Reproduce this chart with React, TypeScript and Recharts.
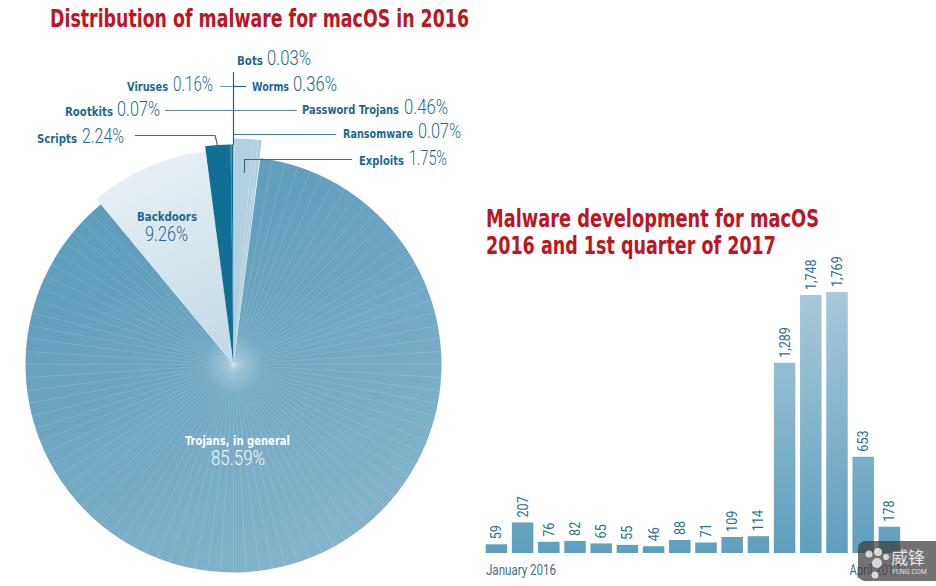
import { PieChart, Pie, Cell, BarChart, Bar, XAxis, YAxis, LabelList } from 'recharts';

const LIGHT = 'Roboto, "Noto Sans", sans-serif';
const HEAD = '"DejaVu Sans Condensed", "DejaVu Sans", sans-serif';

// each wedge group of the pie, clockwise from 12 o'clock
const lightNames = ['Ransomware', 'Exploits', 'Password Trojans', 'Worms'];
const lightValues = [0.07, 1.75, 0.46, 0.36];
const trojanNames = ['Trojans, in general'];
const trojanValues = [85.59];
const backdoorNames = ['Backdoors'];
const backdoorValues = [9.26];
const darkNames = ['Scripts', 'Rootkits', 'Viruses', 'Bots'];
const darkValues = [2.24, 0.07, 0.16, 0.03];

const toRows = (names: string[], values: number[]) => names.map((name, i) => ({ name, value: values[i] }));

// degrees clockwise from 12 o'clock, as the wedges sit in the picture
const wedges = [
  { rows: toRows(trojanNames, trojanValues), from: 7.4, to: 320.4, radius: 208, fill: 'url(#trojanFill)' },
  { rows: toRows(backdoorNames, backdoorValues), from: 320.4, to: 352.6, radius: 215, fill: 'url(#backdoorFill)' },
  { rows: toRows(darkNames, darkValues), from: 352.6, to: 360, radius: 220, fill: '#0f6f94' },
  { rows: toRows(lightNames, lightValues), from: 0, to: 7.2, radius: 226, fill: '#b3d0e0' },
];

const months = ['January 2016', 'February 2016', 'March 2016', 'April 2016', 'May 2016', 'June 2016', 'July 2016', 'August 2016', 'September 2016', 'October 2016', 'November 2016', 'December 2016', 'January 2017', 'February 2017', 'March 2017', 'April 2017'];
const samples = [59, 207, 76, 82, 65, 55, 46, 88, 71, 109, 114, 1289, 1748, 1769, 653, 178];

const barRows = months.map((month, i) => ({ month, samples: samples[i] }));

// callouts: name, percent, name x range, percent x range, baseline
const callouts: [string, string, number, number, number, number, number][] = [
  ['Bots', '0.03%', 237, 263, 267, 311, 65],
  ['Viruses', '0.16%', 127, 168, 173, 213, 91],
  ['Worms', '0.36%', 252, 289, 293, 337, 91],
  ['Rootkits', '0.07%', 65, 113, 117, 160, 116],
  ['Password Trojans', '0.46%', 302, 399, 404, 448, 114],
  ['Scripts', '2.24%', 37, 77, 82, 124, 143],
  ['Ransomware', '0.07%', 343, 413, 418, 461, 138],
  ['Exploits', '1.75%', 359, 404, 409, 447, 165],
];

const leaders = [
  { d: 'M233.5 72V145', c: '#1d6480' },
  { d: 'M220 86.5H233', c: '#7d9fae' },
  { d: 'M233 86.5H246', c: '#1d6480' },
  { d: 'M165 110.5H233', c: '#5d8293' },
  { d: 'M233 110.5H297', c: '#5d8293' },
  { d: 'M135 135.5H215L218 147', c: '#3f6f84' },
  { d: 'M233 134.5H336', c: '#3f7a94' },
  { d: 'M244.5 173V159.5H352', c: '#3f6f84' },
];

const rayAngles = Array.from({ length: 100 }, (_, i) => (i * Math.PI) / 50);

function MonthTick({ x, y, index, payload }: any) {
  if (index !== 0 && index !== months.length - 1) return null;
  const first = index === 0;
  return (
    <text
      x={first ? x - 10.75 : x + 10.75 - 51}
      y={y + 14}
      textLength={first ? 70 : 51}
      lengthAdjust="spacingAndGlyphs"
      fontFamily={LIGHT}
      fontSize={15}
      fill="#3f6f84"
    >
      {payload.value}
    </text>
  );
}

function BarValue({ x, y, width, value }: any) {
  const cx = x + width / 2 + 5;
  const top = y - 5;
  return (
    <text
      transform={`translate(${cx} ${top}) rotate(-90) scale(0.9 1)`}
      fontFamily={LIGHT}
      fontSize={14}
      fill="#2f6f8d"
    >
      {Number(value).toLocaleString('en-US')}
    </text>
  );
}

export default function App() {
  return (
    <div style={{ position: 'absolute', left: 0, top: 0, width: 936, height: 586, background: '#fff', overflow: 'hidden' }}>
      <div style={{ position: 'absolute', left: 0, top: 0 }}>
        <PieChart width={480} height={586} margin={{ top: 0, right: 0, bottom: 0, left: 0 }}>
          <defs>
            <linearGradient id="trojanBase" gradientUnits="userSpaceOnUse" x1="130" y1="160" x2="340" y2="570">
              <stop offset="0" stopColor="#5a9aba" />
              <stop offset="1" stopColor="#86b5cc" />
            </linearGradient>
            <radialGradient id="trojanGlow" gradientUnits="userSpaceOnUse" cx="233.5" cy="364.5" r="30">
              <stop offset="0" stopColor="#b5d5e2" stopOpacity="0.6" />
              <stop offset="1" stopColor="#b5d5e2" stopOpacity="0" />
            </radialGradient>
            <linearGradient id="backdoorFill" gradientUnits="userSpaceOnUse" x1="140" y1="160" x2="225" y2="360">
              <stop offset="0" stopColor="#e8f0f5" />
              <stop offset="1" stopColor="#c3d9e5" />
            </linearGradient>
            <pattern id="trojanFill" patternUnits="userSpaceOnUse" x="0" y="0" width="480" height="586">
              <rect width="480" height="586" fill="url(#trojanBase)" />
              {rayAngles.map((a, i) => (
                <line
                  key={i}
                  x1={233.5}
                  y1={364.5}
                  x2={233.5 + 215 * Math.cos(a)}
                  y2={364.5 + 215 * Math.sin(a)}
                  stroke="#ffffff"
                  strokeOpacity={0.16}
                  strokeWidth={0.8}
                />
              ))}
              <circle cx={233.5} cy={364.5} r={30} fill="url(#trojanGlow)" />
            </pattern>
          </defs>
          {wedges.map((w) => (
            <Pie
              key={w.from}
              data={w.rows}
              dataKey="value"
              nameKey="name"
              cx={233.5}
              cy={364.5}
              innerRadius={0}
              outerRadius={w.radius}
              startAngle={90 - w.from}
              endAngle={90 - w.to}
              stroke="none"
              isAnimationActive={false}
            >
              {w.rows.map((r) => (
                <Cell key={r.name} fill={w.fill} stroke="none" />
              ))}
            </Pie>
          ))}
        </PieChart>
      </div>

      <div style={{ position: 'absolute', left: 473, top: 250 }}>
        <BarChart width={440} height={336} data={barRows} margin={{ top: 42, right: 10.15, bottom: 0, left: 10.65 }}>
          <defs>
            <linearGradient id="barFill" gradientUnits="userSpaceOnUse" x1="0" y1="42" x2="0" y2="303">
              <stop offset="0" stopColor="#a8c9da" />
              <stop offset="1" stopColor="#5f9fbd" />
            </linearGradient>
          </defs>
          <XAxis dataKey="month" axisLine={false} tickLine={false} height={33} interval={0} tick={<MonthTick />} />
          <YAxis hide domain={[0, 1769]} />
          <Bar dataKey="samples" barSize={21.5} fill="url(#barFill)" isAnimationActive={false}>
            <LabelList dataKey="samples" content={<BarValue />} />
          </Bar>
        </BarChart>
      </div>

      <svg width={936} height={586} style={{ position: 'absolute', left: 0, top: 0, pointerEvents: 'none' }}>
        <g fontFamily={HEAD} fontWeight={700} fontSize={24} fill="#bd1622">
          <text x={50} y={27} textLength={419} lengthAdjust="spacingAndGlyphs">Distribution of malware for macOS in 2016</text>
          <text x={486} y={227} textLength={333} lengthAdjust="spacingAndGlyphs">Malware development for macOS</text>
          <text x={486} y={254} textLength={290} lengthAdjust="spacingAndGlyphs">2016 and 1st quarter of 2017</text>
        </g>
        {leaders.map((l) => (
          <path key={l.d} d={l.d} fill="none" stroke={l.c} strokeWidth={1.2} />
        ))}
        {callouts.map(([name, pct, n0, n1, p0, p1, y]) => (
          <g key={name}>
            <text x={n0} y={y} textLength={n1 - n0} lengthAdjust="spacingAndGlyphs" fontFamily={HEAD} fontWeight={700} fontSize={13} fill="#1f6a8a">{name}</text>
            <text x={p0} y={y} textLength={p1 - p0} lengthAdjust="spacingAndGlyphs" fontFamily={LIGHT} fontWeight={300} fontSize={20} fill="#1f6a8a">{pct}</text>
          </g>
        ))}
        <text x={137} y={221} fontFamily={HEAD} fontWeight={700} fontSize={13} fill="#1f6a8a" textLength={60} lengthAdjust="spacingAndGlyphs">Backdoors</text>
        <text x={145} y={241} fontFamily={LIGHT} fontWeight={300} fontSize={20} fill="#1f6a8a" textLength={43} lengthAdjust="spacingAndGlyphs">9.26%</text>
        <text x={185} y={445} fontFamily={HEAD} fontWeight={700} fontSize={13} fill="#ffffff" textLength={105} lengthAdjust="spacingAndGlyphs">Trojans, in general</text>
        <text x={211} y={465} fontFamily={LIGHT} fontWeight={300} fontSize={20} fill="#f2f8fb" textLength={54} lengthAdjust="spacingAndGlyphs">85.59%</text>
      </svg>

      <div style={{ position: 'absolute', left: 858, top: 541, width: 78, height: 40, background: 'rgba(60,60,60,0.72)', borderRadius: '7px 0 0 7px', color: '#fff', overflow: 'hidden' }}>
        <svg width={28} height={32} style={{ position: 'absolute', left: 5, top: 6 }}>
          <g fill="#f2f2f2" fillOpacity={0.8}>
            <circle cx={6} cy={7} r={3.5} />
            <circle cx={15} cy={5} r={4} />
            <circle cx={23} cy={10} r={3} />
            <circle cx={14} cy={16} r={5} />
            <circle cx={12} cy={28} r={3.5} />
          </g>
        </svg>
        <div style={{ position: 'absolute', left: 33, top: 6, fontFamily: '"Noto Sans CJK SC"', fontSize: 17, lineHeight: '20px', opacity: 0.8, whiteSpace: 'nowrap' }}>威锋</div>
        <div style={{ position: 'absolute', left: 34, top: 27, fontFamily: 'Roboto, sans-serif', fontSize: 7, lineHeight: '9px', opacity: 0.75 }}>FENG.COM</div>
      </div>
    </div>
  );
}
